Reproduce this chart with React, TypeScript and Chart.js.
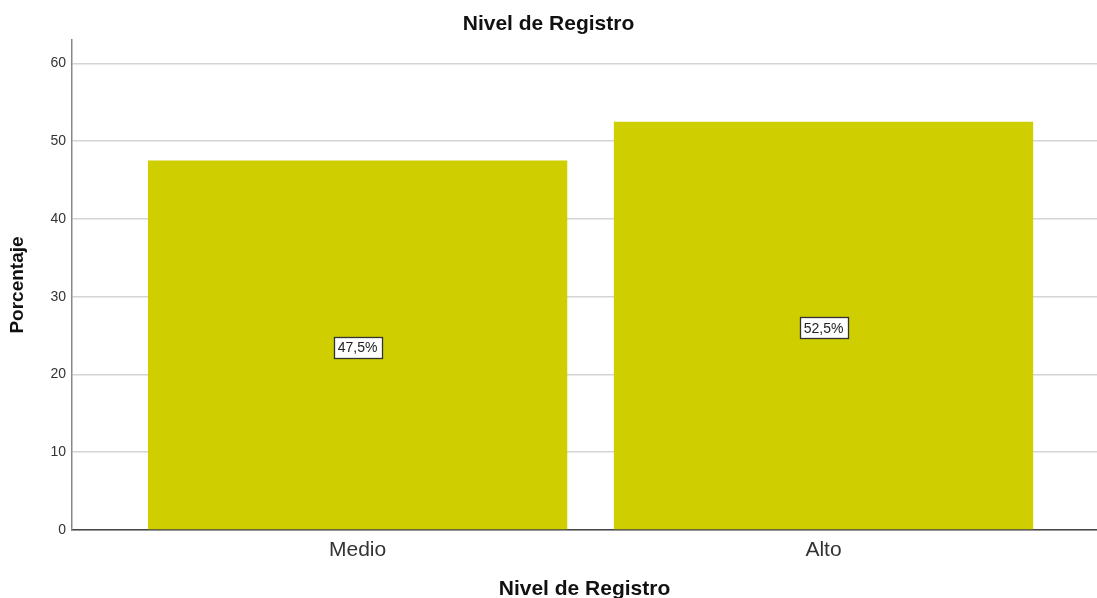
import React, { useEffect, useRef } from "react";
import { Chart, registerables } from "chart.js";

Chart.register(...registerables);

const categories = ["Medio", "Alto"];
const percentages = [47.5, 52.5];
const barLabels = ["47,5%", "52,5%"];
const yTicks = [0, 10, 20, 30, 40, 50, 60];

const FONT = "'Liberation Sans', Arial, sans-serif";

const boxLabelPlugin = {
  id: "boxLabels",
  afterDatasetsDraw(chart: any) {
    const ctx = chart.ctx;
    const meta = chart.getDatasetMeta(0);
    const yScale = chart.scales.y;
    ctx.save();
    ctx.font = `14px ${FONT}`;
    ctx.textAlign = "center";
    ctx.textBaseline = "middle";
    meta.data.forEach((bar: any, i: number) => {
      const v = percentages[i];
      const cx = bar.x;
      const cy = yScale.getPixelForValue(v / 2) + 2;
      const text = barLabels[i];
      const w = Math.round(ctx.measureText(text).width + 8);
      const h = 21;
      const left = Math.round(cx - w / 2);
      const top = Math.round(cy - h / 2);
      ctx.fillStyle = "#ffffff";
      ctx.fillRect(left, top, w, h);
      ctx.strokeStyle = "#333333";
      ctx.lineWidth = 1.3;
      ctx.strokeRect(left + 0.5, top + 0.5, w, h);
      ctx.fillStyle = "#222222";
      ctx.fillText(text, cx, cy + 1);
    });
    ctx.restore();
  },
};

export default function App() {
  const ref = useRef<HTMLCanvasElement>(null);
  useEffect(() => {
    if (!ref.current) return;
    const chart = new Chart(ref.current, {
      type: "bar",
      data: {
        datasets: [
          {
            data: percentages.map((v, i) => ({ x: i + 1, y: v })),
            backgroundColor: "rgb(206,206,0)",
            borderWidth: 0,
            categoryPercentage: 1,
            barPercentage: 0.9,
          },
        ],
      },
      options: {
        responsive: false,
        animation: false,
        layout: { padding: 0 },
        plugins: {
          legend: { display: false },
          tooltip: { enabled: false },
          title: {
            display: true,
            text: "Nivel de Registro",
            color: "#111",
            font: { family: FONT, size: 21, weight: "bold", lineHeight: 1.2 },
            padding: { top: 11.4, bottom: 3.4 },
          },
        },
        scales: {
          x: {
            type: "linear",
            offset: false,
            min: 0.387,
            max: 2.587,
            afterBuildTicks: (scale: any) => {
              scale.ticks = categories.map((_, i) => ({ value: i + 1 }));
            },
            afterFit: (scale: any) => {
              scale.height = 68;
            },
            ticks: {
              callback: (v: any) => categories[Number(v) - 1] ?? "",
              color: "#333",
              font: { family: FONT, size: 21 },
              padding: 8,
              maxRotation: 0,
              autoSkip: false,
            },
            grid: { display: false, drawTicks: false, offset: false },
            border: { display: true, color: "#444", width: 1.5 },
            title: {
              display: true,
              text: "Nivel de Registro",
              color: "#111",
              font: { family: FONT, size: 21, weight: "bold", lineHeight: 1.2 },
              padding: { top: 0, bottom: -4 },
            },
          },
          y: {
            min: 0,
            max: 63,
            afterBuildTicks: (scale: any) => {
              scale.ticks = yTicks.map((v) => ({ value: v }));
            },
            afterFit: (scale: any) => {
              scale.width = 72;
            },
            ticks: {
              color: "#333",
              font: { family: FONT, size: 14 },
              padding: 6,
            },
            grid: { color: "#d4d4d4", lineWidth: 1.5, drawTicks: false },
            border: { display: true, color: "#888", width: 1.5 },
            title: {
              display: true,
              text: "Porcentaje",
              color: "#111",
              font: { family: FONT, size: 19, weight: "bold", lineHeight: 1.2 },
              padding: { top: 6.6, bottom: 0 },
            },
          },
        },
      },
      plugins: [boxLabelPlugin],
    } as any);
    return () => chart.destroy();
  }, []);
  return (
    <div style={{ position: "absolute", left: 0, top: 0, width: 1097, height: 598, background: "#fff" }}>
      <canvas ref={ref} width={1097} height={598} />
    </div>
  );
}
